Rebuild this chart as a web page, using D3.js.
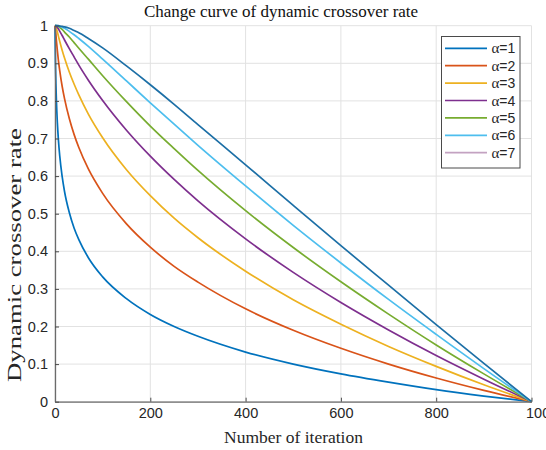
<!DOCTYPE html>
<html>
<head>
<meta charset="utf-8">
<script src="https://cdn.jsdelivr.net/npm/d3@7"></script>
<style>
  body { margin: 0; background: #fff; }
  svg { display: block; }
</style>
</head>
<body>
<svg id="chart" width="546" height="450"></svg>
<script>
// iteration number (x) and dynamic crossover rate for each alpha
var iterations = [0, 1, 2, 3, 5, 7, 10, 15, 20, 30, 40, 50, 70, 100, 150, 200, 250, 300, 400, 500, 600, 700, 800, 900, 1000];

var rate1 = [1, 0.900, 0.841, 0.799, 0.741, 0.699, 0.653, 0.599, 0.559, 0.503, 0.462, 0.431, 0.383, 0.332, 0.274, 0.232, 0.200, 0.174, 0.132, 0.100, 0.074, 0.052, 0.032, 0.015, 0];
var rate2 = [1, 0.990, 0.975, 0.960, 0.933, 0.909, 0.880, 0.839, 0.806, 0.753, 0.711, 0.676, 0.619, 0.554, 0.473, 0.411, 0.360, 0.318, 0.247, 0.190, 0.142, 0.100, 0.063, 0.030, 0];
var rate3 = [1, 0.999, 0.996, 0.992, 0.983, 0.973, 0.958, 0.935, 0.914, 0.877, 0.845, 0.816, 0.765, 0.702, 0.617, 0.548, 0.488, 0.436, 0.347, 0.271, 0.206, 0.147, 0.094, 0.045, 0];
var rate4 = [1, 1, 0.999, 0.998, 0.995, 0.992, 0.985, 0.974, 0.962, 0.939, 0.917, 0.895, 0.855, 0.801, 0.722, 0.653, 0.591, 0.534, 0.433, 0.344, 0.264, 0.191, 0.123, 0.060, 0];
var rate5 = [1, 1, 1, 1, 0.999, 0.998, 0.995, 0.990, 0.983, 0.970, 0.955, 0.940, 0.911, 0.867, 0.798, 0.733, 0.673, 0.615, 0.508, 0.410, 0.319, 0.233, 0.151, 0.074, 0];
var rate6 = [1, 1, 1, 1, 1, 0.999, 0.998, 0.996, 0.993, 0.985, 0.976, 0.966, 0.945, 0.911, 0.853, 0.795, 0.738, 0.682, 0.574, 0.469, 0.369, 0.272, 0.179, 0.088, 0];
var rate7 = [1, 1, 1, 1, 1, 1, 0.999, 0.998, 0.997, 0.993, 0.987, 0.981, 0.966, 0.941, 0.893, 0.843, 0.791, 0.737, 0.630, 0.522, 0.415, 0.310, 0.205, 0.102, 0];

var seriesNames = ["1", "2", "3", "4", "5", "6", "7"];
var seriesRates = [rate1, rate2, rate3, rate4, rate5, rate6, rate7];
var lineColors = ["#0072bd", "#d95319", "#edb120", "#7e2f8e", "#77ac30", "#4dbeee", "#1c6fa6"];
var legendColors = ["#0072bd", "#d95319", "#edb120", "#7e2f8e", "#77ac30", "#4dbeee", "#c3a2c1"];

var xTicks = [0, 200, 400, 600, 800, 1000];
var yTicks = [0, 0.1, 0.2, 0.3, 0.4, 0.5, 0.6, 0.7, 0.8, 0.9, 1];

var svg = d3.select("#chart");

var x = d3.scaleLinear().domain([0, 1000]).range([55, 531.5]);
var y = d3.scaleLinear().domain([0, 1]).range([401.7, 25.7]);

// grid
var grid = svg.append("g").attr("class", "grid");
grid.selectAll("line.vx")
  .data(xTicks)
  .enter().append("line")
  .attr("x1", function (d) { return x(d); })
  .attr("x2", function (d) { return x(d); })
  .attr("y1", y(0))
  .attr("y2", y(1))
  .attr("stroke", "#e2e2e2")
  .attr("stroke-width", 1);
grid.selectAll("line.hy")
  .data(yTicks)
  .enter().append("line")
  .attr("x1", x(0))
  .attr("x2", x(1000))
  .attr("y1", function (d) { return y(d); })
  .attr("y2", function (d) { return y(d); })
  .attr("stroke", "#e2e2e2")
  .attr("stroke-width", 1);

// curves
var line = d3.line()
  .x(function (d) { return x(d[0]); })
  .y(function (d) { return y(d[1]); })
  .curve(d3.curveMonotoneX);

svg.append("g").selectAll("path")
  .data(seriesRates)
  .enter().append("path")
  .attr("d", function (r) { return line(iterations.map(function (t, i) { return [t, r[i]]; })); })
  .attr("fill", "none")
  .attr("stroke", function (r, i) { return lineColors[i]; })
  .attr("stroke-width", 1.7)
  .attr("stroke-linejoin", "round");

// axes
var xAxis = svg.append("g")
  .attr("transform", "translate(0," + y(0) + ")")
  .call(d3.axisBottom(x).tickValues(xTicks).tickSize(-4).tickPadding(6).tickSizeOuter(0)
    .tickFormat(function (d) { return String(d); }));
var yAxis = svg.append("g")
  .attr("transform", "translate(" + x(0) + ",0)")
  .call(d3.axisLeft(y).tickValues(yTicks).tickSize(-4).tickPadding(7).tickSizeOuter(0)
    .tickFormat(function (d) { return String(d); }));

[xAxis, yAxis].forEach(function (a) {
  a.select(".domain").attr("stroke", "#6b6b6b").attr("stroke-width", 1.3);
  a.selectAll(".tick line").attr("stroke", "#4a4a4a");
  a.selectAll(".tick text")
    .attr("fill", "#262626")
    .attr("font-family", "'Liberation Sans', Arial, sans-serif")
    .attr("font-size", "14.5px");
});
// last x label sits a bit to the right, cut by the edge as in the figure
xAxis.selectAll(".tick text")
  .filter(function (d) { return d === 1000; })
  .attr("text-anchor", "start")
  .attr("dx", "-6");

// title and axis labels
svg.append("text")
  .attr("x", 281)
  .attr("y", 17)
  .attr("text-anchor", "middle")
  .attr("font-family", "'Liberation Serif', 'Times New Roman', serif")
  .attr("font-size", "17px")
  .attr("fill", "#111")
  .text("Change curve of dynamic crossover rate");

svg.append("text")
  .attr("x", 293.5)
  .attr("y", 443)
  .attr("text-anchor", "middle")
  .attr("font-family", "'Liberation Serif', 'Times New Roman', serif")
  .attr("font-size", "17.5px")
  .attr("fill", "#262626")
  .text("Number of iteration");

svg.append("text")
  .attr("transform", "translate(21,382) rotate(-90)")
  .attr("x", 0)
  .attr("y", 0)
  .attr("font-family", "'Liberation Serif', 'Times New Roman', serif")
  .attr("font-size", "18.5px")
  .attr("fill", "#262626")
  .attr("textLength", 254)
  .attr("lengthAdjust", "spacingAndGlyphs")
  .text("Dynamic crossover rate");

// legend
var legend = svg.append("g").attr("class", "legend");
legend.append("rect")
  .attr("x", 441.5)
  .attr("y", 36.5)
  .attr("width", 78.5)
  .attr("height", 131.5)
  .attr("fill", "#fff")
  .attr("stroke", "#4a4a4a")
  .attr("stroke-width", 1);

var rows = legend.selectAll("g.row")
  .data(seriesNames)
  .enter().append("g")
  .attr("class", "row")
  .attr("transform", function (d, i) { return "translate(0," + (48.3 + i * 17.4) + ")"; });

rows.append("line")
  .attr("x1", 445)
  .attr("x2", 487)
  .attr("y1", 0)
  .attr("y2", 0)
  .attr("stroke", function (d, i) { return legendColors[i]; })
  .attr("stroke-width", 1.7);

var lt = rows.append("text")
  .attr("x", 491.5)
  .attr("y", 5)
  .attr("font-size", "14px")
  .attr("fill", "#262626");
lt.append("tspan")
  .attr("font-family", "'Liberation Serif', 'Times New Roman', serif")
  .attr("font-size", "15px")
  .text("\u03b1");
lt.append("tspan")
  .attr("font-family", "'Liberation Sans', Arial, sans-serif")
  .text(function (d) { return "=" + d; });
</script>
</body>
</html>
